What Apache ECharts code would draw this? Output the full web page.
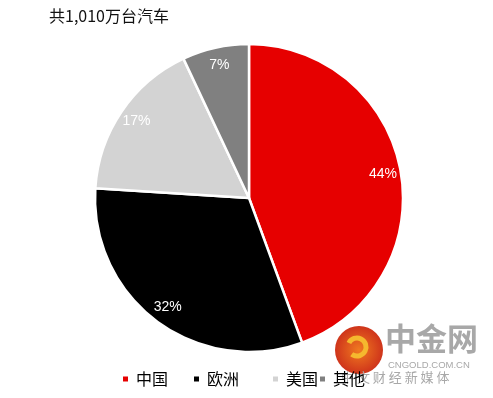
<!DOCTYPE html>
<html><head><meta charset="utf-8">
<script src="https://cdn.jsdelivr.net/npm/echarts@6/dist/echarts.min.js"></script>
<style>html,body{margin:0;padding:0;background:#fff}#c{width:493px;height:398px}</style>
</head><body><div id="c"></div>
<script>
var titleText = '共1,010万台汽车';
var categories = ['中国', '欧洲', '美国', '其他'];
var values = [44.4, 31.6, 17, 7];
var colors = ['#E60000', '#000000', '#D3D3D3', '#808080'];
var legendLeft = [121, 192, 271, 318];

var chart = echarts.init(document.getElementById('c'));
var data = categories.map(function (c, i) { return { name: c, value: values[i] }; });
var FONT = '"Noto Sans CJK SC", "Liberation Sans", sans-serif';

var legends = categories.map(function (c, i) {
  return {
    data: [c], left: legendLeft[i], top: 371, icon: 'rect', itemWidth: 7, itemHeight: 7,
    itemGap: 0, padding: 0,
    textStyle: { fontSize: 16, color: '#000', fontFamily: FONT, padding: [0, 0, 0, 2] }
  };
});

chart.setOption({
  color: colors,
  animation: false,
  title: { text: titleText, left: 44, top: 3, textStyle: { fontSize: 16, fontWeight: 'normal', color: '#111', fontFamily: FONT } },
  legend: legends,
  graphic: [
    { type: 'circle', z: 0, shape: { cx: 359, cy: 350, r: 24 },
      style: { fill: { type: 'radial', x: 0.5, y: 0.5, r: 0.6, colorStops: [{ offset: 0, color: '#F07A20' }, { offset: 1, color: '#C8261A' }] } } },
    { type: 'arc', z: 0, shape: { cx: 357, cy: 347, r: 9, startAngle: 3.6, endAngle: 2.2, clockwise: true },
      style: { stroke: '#F5B82E', lineWidth: 5, fill: 'none' } },
    { type: 'text', z: 0, left: 385, top: 323, style: { text: '中金网', fontSize: 31, fontWeight: 'bold', fill: '#A8A8A8', fontFamily: FONT } },
    { type: 'text', z: 0, left: 388, top: 360, style: { text: 'CNGOLD.COM.CN', fontSize: 9.5, fill: '#A8A8A8', fontFamily: '"Liberation Sans", sans-serif' } },
    { type: 'text', z: 0, left: 341, top: 371, style: { text: '中 文 财 经 新 媒 体', fontSize: 13, fill: '#A8A8A8', fontFamily: FONT } }
  ],
  series: [
    {
      type: 'pie', center: [249, 198], radius: 154, startAngle: 90, clockwise: true,
      z: 2, silent: true,
      itemStyle: { borderColor: '#fff', borderWidth: 2.5 },
      label: { show: false }, labelLine: { show: false },
      data: data
    },
    {
      type: 'pie', center: [249, 198], radius: [112, 154], startAngle: 90, clockwise: true,
      z: 3, silent: true,
      itemStyle: { color: 'rgba(0,0,0,0)', borderWidth: 0 },
      label: { show: true, position: 'inside', formatter: function (p) { return Math.round(p.value) + '%'; }, color: '#fff', fontSize: 14, fontFamily: '"Liberation Sans", Arial, sans-serif' },
      labelLine: { show: false },
      data: data
    }
  ]
});
</script></body></html>
